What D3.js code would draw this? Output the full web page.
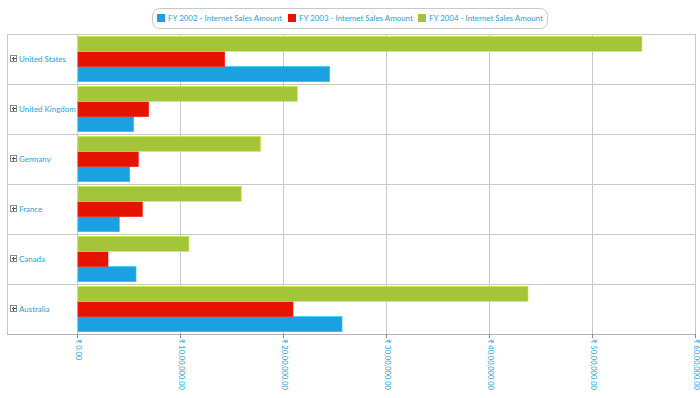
<!DOCTYPE html>
<html>
<head>
<meta charset="utf-8">
<script src="https://cdn.jsdelivr.net/npm/d3@7"></script>
<style>
  body { margin: 0; background: #fff; }
  text { font-family: Lato, "Open Sans", sans-serif; }
</style>
</head>
<body>
<div id="chart"></div>
<script>
// data
let countries = ["United States", "United Kingdom", "Germany", "France", "Canada", "Australia"]
let seriesNames = ["FY 2002 - Internet Sales Amount", "FY 2003 - Internet Sales Amount", "FY 2004 - Internet Sales Amount"]
let fy2002 = [2453000, 550000, 512000, 411000, 573000, 2573000]
let fy2003 = [1434000, 696000, 595000, 634000, 301000, 2097000]
let fy2004 = [5485000, 2139000, 1783000, 1595000, 1087000, 4379000]
let tickValues = [0, 1000000, 2000000, 3000000, 4000000, 5000000, 6000000]
let tickLabels = ["₹ 0.00", "₹ 10,00,000.00", "₹ 20,00,000.00", "₹ 30,00,000.00", "₹ 40,00,000.00", "₹ 50,00,000.00", "₹ 60,00,000.00"]

let colors = ["#1ba1e2", "#e51400", "#a4c439"]
let textColor = "#2a9fd8"

let width = 700, height = 398
let plot = { left: 77, right: 695, top: 34, bottom: 334 }
let panelLeft = 7

let svg = d3.select("#chart")
    .append("svg")
    .attr("width", width)
    .attr("height", height)

// pick a font size so a sample string has the wanted width
function fitSize(sample, target) {
    let t = svg.append("text").style("font-size", "10px").text(sample)
    let w = t.node().getComputedTextLength()
    t.remove()
    return 10 * target / w
}
let legendSize = fitSize(seriesNames[0], 114)
let catSize = fitSize("United States", 47)
let tickSize = fitSize(tickLabels[1], 51)

let x = d3.scaleLinear()
    .domain([0, 6000000])
    .range([plot.left, plot.right])

let y = d3.scaleBand()
    .domain(countries)
    .range([plot.top, plot.bottom])

// bars are stacked top to bottom: 2004, 2003, 2002
let barOrder = [2, 1, 0]
let y1 = d3.scaleBand()
    .domain(barOrder)
    .range([0, y.bandwidth()])
    .paddingOuter(0.15)
    .paddingInner(0)

// gridlines
svg.append("g")
    .selectAll("line")
    .data(tickValues)
    .enter()
    .append("line")
    .attr("x1", d => x(d) + 0.5)
    .attr("x2", d => x(d) + 0.5)
    .attr("y1", plot.top)
    .attr("y2", plot.bottom)
    .attr("stroke", "#c8c8c8")
    .attr("stroke-width", 1)

// row separators
svg.append("g")
    .selectAll("line")
    .data(countries)
    .enter()
    .append("line")
    .attr("x1", panelLeft)
    .attr("x2", plot.right)
    .attr("y1", d => Math.round(y(d)) + 0.5)
    .attr("y2", d => Math.round(y(d)) + 0.5)
    .attr("stroke", "#c8c8c8")

// outer frame of category panel
svg.append("line")
    .attr("x1", panelLeft + 0.5).attr("x2", panelLeft + 0.5)
    .attr("y1", plot.top).attr("y2", plot.bottom)
    .attr("stroke", "#c8c8c8")
svg.append("line")
    .attr("x1", panelLeft).attr("x2", plot.right + 1)
    .attr("y1", plot.bottom + 0.5).attr("y2", plot.bottom + 0.5)
    .attr("stroke", "#b4b4b4")

// bars
let allSeries = [fy2002, fy2003, fy2004]
let groups = svg.append("g")
    .selectAll("g")
    .data(countries)
    .enter()
    .append("g")
    .attr("transform", d => `translate(0, ${y(d)})`)

groups.selectAll("rect")
    .data((d, i) => allSeries.map((s, k) => ({ k: k, v: s[i] })))
    .enter()
    .append("rect")
    .attr("x", x(0) + 1)
    .attr("y", d => y1(d.k))
    .attr("width", d => x(d.v) - x(0) - 1)
    .attr("height", y1.bandwidth())
    .attr("fill", d => colors[d.k])
    .attr("stroke", d => d3.color(colors[d.k]).brighter(0.6))
    .attr("stroke-width", 0.6)

// category labels with expand icons
let cat = svg.append("g")
    .selectAll("g")
    .data(countries)
    .enter()
    .append("g")
    .attr("transform", d => `translate(0, ${y(d) + y.bandwidth() / 2})`)

cat.append("rect")
    .attr("x", 10.5).attr("y", -3.5)
    .attr("width", 6).attr("height", 6)
    .attr("fill", "#fff")
    .attr("stroke", "#888")
cat.append("line")
    .attr("x1", 12).attr("x2", 16).attr("y1", -0.5).attr("y2", -0.5)
    .attr("stroke", "#555")
cat.append("line")
    .attr("x1", 13.5).attr("x2", 13.5).attr("y1", -2).attr("y2", 2)
    .attr("stroke", "#555")
cat.append("text")
    .attr("x", 19)
    .attr("y", 0)
    .attr("dy", "0.35em")
    .style("font-size", catSize + "px")
    .attr("fill", textColor)
    .text(d => d)

// x axis ticks and rotated labels
let axis = svg.append("g")
axis.selectAll("line")
    .data(tickValues)
    .enter()
    .append("line")
    .attr("x1", d => x(d) + 0.5)
    .attr("x2", d => x(d) + 0.5)
    .attr("y1", plot.bottom)
    .attr("y2", plot.bottom + 4)
    .attr("stroke", "#888")
axis.selectAll("text")
    .data(tickValues)
    .enter()
    .append("text")
    .attr("transform", d => `translate(${x(d) + 1}, ${plot.bottom + 5}) rotate(90)`)
    .attr("dominant-baseline", "central")
    .style("font-size", tickSize + "px")
    .attr("fill", textColor)
    .text((d, i) => tickLabels[i])

// legend
let legend = svg.append("g")
legend.append("rect")
    .attr("x", 152.5).attr("y", 8.5)
    .attr("width", 395).attr("height", 20)
    .attr("rx", 7)
    .attr("fill", "#fff")
    .attr("stroke", "#c8c8c8")

let legendX = [157, 288, 418]
let items = legend.selectAll("g.item")
    .data(seriesNames)
    .enter()
    .append("g")
    .attr("class", "item")
    .attr("transform", (d, i) => `translate(${legendX[i]}, 14)`)
items.append("rect")
    .attr("width", 8).attr("height", 8)
    .attr("fill", (d, i) => colors[i])
items.append("text")
    .attr("x", 11)
    .attr("y", 4)
    .attr("dy", "0.35em")
    .style("font-size", legendSize + "px")
    .attr("fill", textColor)
    .text(d => d)
</script>
</body>
</html>
